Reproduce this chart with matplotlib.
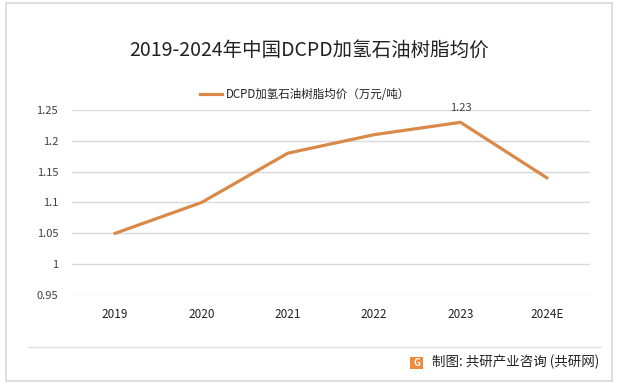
import matplotlib
matplotlib.use('Agg')

import matplotlib.pyplot as plt
from matplotlib.patches import Rectangle
from matplotlib.lines import Line2D

plt.rcParams['font.family'] = ['Noto Sans CJK SC', 'DejaVu Sans']

# data
years = ['2019', '2020', '2021', '2022', '2023', '2024E']
price = [1.05, 1.10, 1.18, 1.21, 1.23, 1.14]
yticks = [0.95, 1, 1.05, 1.1, 1.15, 1.2, 1.25]
ytick_labels = ['0.95', '1', '1.05', '1.1', '1.15', '1.2', '1.25']

W, H = 618, 387
fig = plt.figure(figsize=(W / 100, H / 100), dpi=100)

# outer frame
fig.patches.append(Rectangle((6 / W, 1 - 381 / H), 606 / W, 378 / H,
                             transform=fig.transFigure, fill=False,
                             edgecolor='#D9D9D9', linewidth=1.2))

ax = fig.add_axes([72 / W, 1 - 295 / H, 518 / W, 185 / H])
x = list(range(len(years)))
ax.plot(x, price, color='#D98A48', linewidth=2.3, solid_joinstyle='miter')
ax.set_xlim(-0.5, len(years) - 0.5)
ax.set_ylim(0.95, 1.25)
ax.set_yticks(yticks)
ax.set_yticklabels(ytick_labels)
ax.set_xticks(x)
ax.set_xticklabels(years)
ax.grid(axis='y', color='#D9D9D9', linewidth=1)
ax.set_axisbelow(True)
for s in ax.spines.values():
    s.set_visible(False)
ax.tick_params(length=0, labelsize=8, colors='#404040')
ax.tick_params(axis='x', pad=9, labelcolor='#222222', labelsize=8.5)
ax.tick_params(axis='y', pad=10)

# data label
ax.annotate('1.23', (4, price[4]), xytext=(0, 7), textcoords='offset points',
            ha='center', va='bottom', fontsize=8, color='#404040')

# title
fig.text(0.5, 1 - 50 / H, '2019-2024年中国DCPD加氢石油树脂均价', ha='center',
         va='center', fontsize=14, color='#222222')

# legend
fig.lines.append(Line2D([200 / W, 222 / W], [1 - 94 / H, 1 - 94 / H],
                        transform=fig.transFigure, color='#D98A48', linewidth=2.3))
fig.text(226 / W, 1 - 94 / H, 'DCPD加氢石油树脂均价（万元/吨）', ha='left',
         va='center', fontsize=8.3, color='#222222')

# footer
fig.lines.append(Line2D([28 / W, 601 / W], [1 - 347 / H, 1 - 347 / H],
                        transform=fig.transFigure, color='#E3E3E3', linewidth=1))
fig.patches.append(Rectangle((410 / W, 1 - 369 / H), 13 / W, 12 / H,
                             transform=fig.transFigure, facecolor='#F08A3C',
                             edgecolor='none'))
fig.text(416.5 / W, 1 - 363 / H, 'G', ha='center', va='center', fontsize=7,
         color='white', fontweight='bold')
fig.text(432 / W, 1 - 362 / H, '制图: 共研产业咨询 (共研网)', ha='left',
         va='center', fontsize=9.7, color='#222222')

fig.savefig('out.png', dpi=100)
